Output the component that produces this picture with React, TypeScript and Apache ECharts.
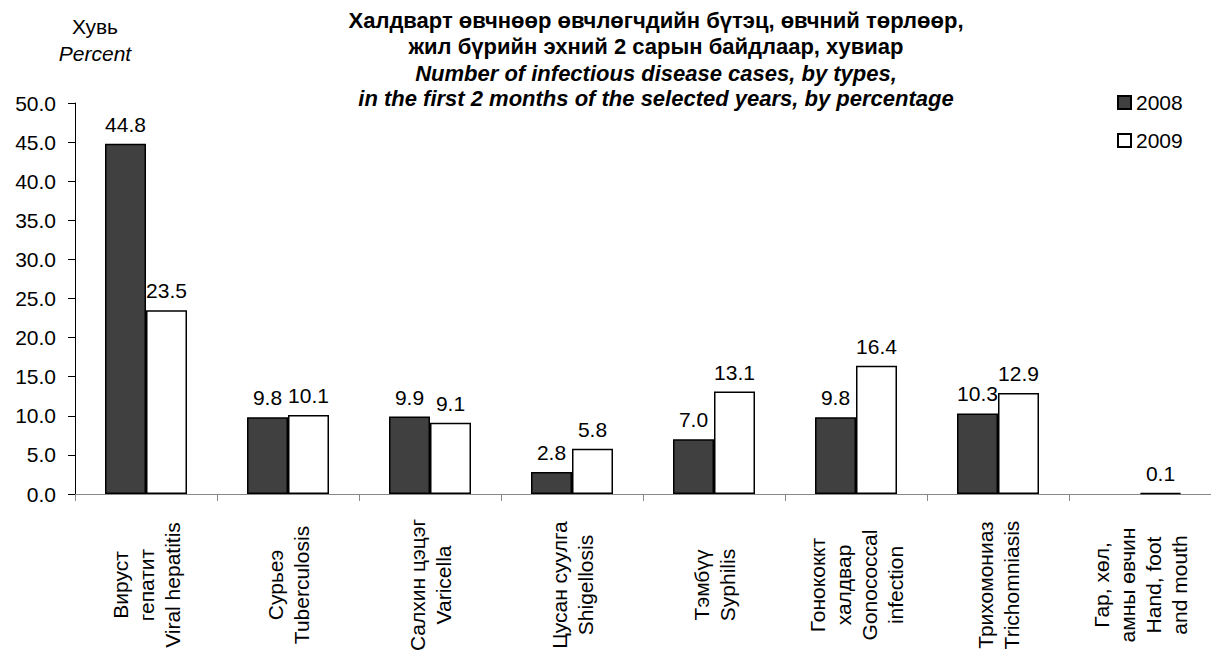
import React, { useEffect, useRef } from "react";
import * as echarts from "echarts";

const categories = [
  "Вируст\nгепатит\nViral hepatitis",
  "Сурьеэ\nTuberculosis",
  "Салхин цэцэг\nVaricella",
  "Цусан суулга\nShigellosis",
  "Тэмбүү\nSyphilis",
  "Гонококкт\nхалдвар\nGonococcal\ninfection",
  "Трихомониаз\nTrichomniasis",
  "Гар, хөл,\nамны өвчин\nHand, foot\nand mouth",
];
const values2008: (number | null)[] = [44.8, 9.8, 9.9, 2.8, 7.0, 9.8, 10.3, null];
const values2009: (number | null)[] = [23.5, 10.1, 9.1, 5.8, 13.1, 16.4, 12.9, 0.1];
const yTicks = { min: 0, max: 50, interval: 5 };
const titleLines = [
  "Халдварт өвчнөөр өвчлөгчдийн бүтэц, өвчний төрлөөр,",
  "жил бүрийн эхний 2 сарын байдлаар, хувиар",
  "Number of infectious disease cases, by types,",
  "in the first 2 months of the selected years, by percentage",
];
const unitLines = ["Хувь", "Percent"];

const FONT = '"Liberation Sans", Arial, sans-serif';
const FS = 21;

export default function App() {
  const ref = useRef<HTMLDivElement>(null);
  useEffect(() => {
    document.body.style.margin = "0";
    if (!ref.current) return;
    const chart = echarts.init(ref.current, null, { renderer: "svg" });
    const labelFmt = (p: any) =>
      p.value == null ? "" : Number(p.value).toFixed(1);
    const titleY = [20, 46, 73, 98];
    const valueLabel = {
      show: true,
      position: "top",
      distance: 9,
      fontSize: FS,
      color: "#000",
      fontFamily: FONT,
      formatter: labelFmt,
    };
    chart.setOption({
      animation: false,
      textStyle: { fontFamily: FONT },
      grid: { left: 75, right: 0, top: 103, bottom: 165, containLabel: false },
      legend: {
        orient: "vertical",
        left: 1117,
        top: 92,
        padding: 0,
        itemWidth: 13,
        itemHeight: 13,
        itemGap: 17,
        icon: "rect",
        textStyle: { fontSize: FS, color: "#000", fontFamily: FONT },
        data: ["2008", "2009"],
      },
      graphic: [
        ...titleLines.map((t, i) => ({
          type: "text",
          x: 656,
          y: titleY[i],
          style: {
            text: t,
            fontSize: 22,
            fontWeight: "bold",
            fontStyle: i >= 2 ? "italic" : "normal",
            fontFamily: FONT,
            fill: "#000",
            align: "center",
            verticalAlign: "middle",
          },
        })),
        ...unitLines.map((t, i) => ({
          type: "text",
          x: 95,
          y: i === 0 ? 26 : 53,
          style: {
            text: t,
            fontSize: FS,
            fontStyle: i === 1 ? "italic" : "normal",
            fontFamily: FONT,
            fill: "#000",
            align: "center",
            verticalAlign: "middle",
          },
        })),
      ],
      xAxis: {
        type: "category",
        data: categories,
        boundaryGap: true,
        axisLine: { lineStyle: { color: "#888", width: 1 } },
        axisTick: { show: true, length: 7, lineStyle: { color: "#888" } },
        axisLabel: {
          interval: 0,
          rotate: 90,
          align: "center",
          verticalAlign: "middle",
          margin: 91,
          fontSize: FS,
          lineHeight: 26,
          color: "#000",
          fontFamily: FONT,
        },
      },
      yAxis: {
        type: "value",
        min: yTicks.min,
        max: yTicks.max,
        interval: yTicks.interval,
        splitLine: { show: false },
        axisLine: { show: true, lineStyle: { color: "#000", width: 1 } },
        axisTick: { show: true, length: 7, lineStyle: { color: "#000" } },
        axisLabel: {
          margin: 19,
          fontSize: FS,
          color: "#000",
          fontFamily: FONT,
          formatter: (v: number) => v.toFixed(1),
        },
      },
      series: [
        {
          name: "2008",
          type: "bar",
          data: values2008,
          barWidth: 41,
          barGap: "0%",
          itemStyle: { color: "#404040", borderColor: "#000", borderWidth: 1.5 },
          label: valueLabel,
        },
        {
          name: "2009",
          type: "bar",
          data: values2009,
          barWidth: 41,
          barGap: "0%",
          itemStyle: { color: "#fff", borderColor: "#000", borderWidth: 1.5 },
          label: valueLabel,
        },
      ],
    });
    return () => chart.dispose();
  }, []);
  return <div ref={ref} style={{ width: 1211, height: 659 }} />;
}
